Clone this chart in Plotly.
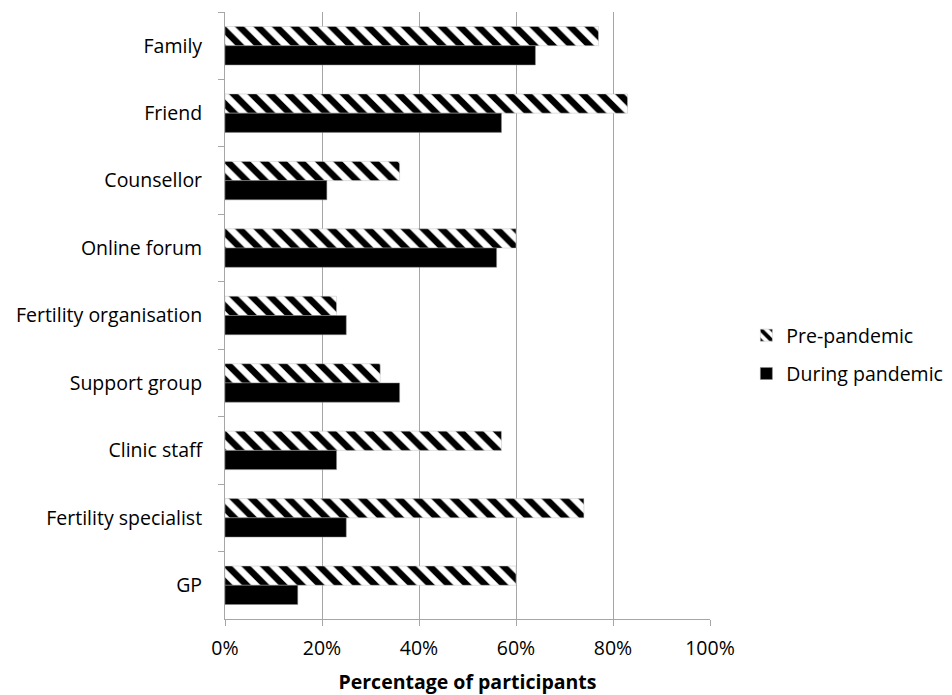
import plotly.graph_objects as go

# Sources of support, percentage of participants using each
categories = [
    "Family", "Friend", "Counsellor", "Online forum", "Fertility organisation",
    "Support group", "Clinic staff", "Fertility specialist", "GP",
]
pre_pandemic = [77, 83, 36, 60, 23, 32, 57, 74, 60]
during_pandemic = [64, 57, 21, 56, 25, 36, 23, 25, 15]
x_ticks = [0, 20, 40, 60, 80, 100]
x_tick_labels = ["0%", "20%", "40%", "60%", "80%", "100%"]

FONT = "Open Sans"
FSIZE = 19.5
GRID = "#a6a6a6"

fig = go.Figure()
fig.add_trace(go.Bar(
    y=categories, x=pre_pandemic, orientation="h", name="Pre-pandemic",
    legendgroup="pre",
    marker=dict(
        color="white",
        line=dict(color="#bfbfbf", width=0.5),
        pattern=dict(shape="\\", fgcolor="black", bgcolor="white",
                     fgopacity=1, size=13, solidity=0.5, fillmode="replace"),
    ),
))
fig.add_trace(go.Bar(
    y=categories, x=during_pandemic, orientation="h", name="During pandemic",
    legendgroup="during",
    marker=dict(color="black", line=dict(color="#8c8c8c", width=0.5)),
))

fig.update_layout(
    width=952, height=695,
    margin=dict(l=225, r=242, t=12, b=76, autoexpand=False),
    paper_bgcolor="white", plot_bgcolor="white",
    barmode="group", bargap=0.43, bargroupgap=0,
    font=dict(family=FONT, size=FSIZE, color="black"),
    legend=dict(
        xref="container", yref="container", x=0.784, y=0.49,
        xanchor="left", yanchor="middle",
        traceorder="grouped", tracegroupgap=10,
        font=dict(size=FSIZE), itemwidth=30,
    ),
    showlegend=True,
)
fig.update_xaxes(
    range=[0, 100], tickvals=x_ticks, ticktext=x_tick_labels,
    showgrid=True, gridcolor=GRID, gridwidth=1,
    showline=True, linecolor=GRID, linewidth=1,
    ticks="outside", ticklen=6, tickcolor=GRID,
    zeroline=False, ticklabelstandoff=6, automargin=False,
    title=dict(text="<b>Percentage of participants</b>", font=dict(size=FSIZE), standoff=15),
)
fig.update_yaxes(
    autorange="reversed", automargin=False,
    showline=True, linecolor=GRID, linewidth=1,
    ticks="outside", ticklen=6, tickcolor=GRID, tickson="boundaries",
    showgrid=False, ticklabelstandoff=18,
)

fig.write_html("out.html")
